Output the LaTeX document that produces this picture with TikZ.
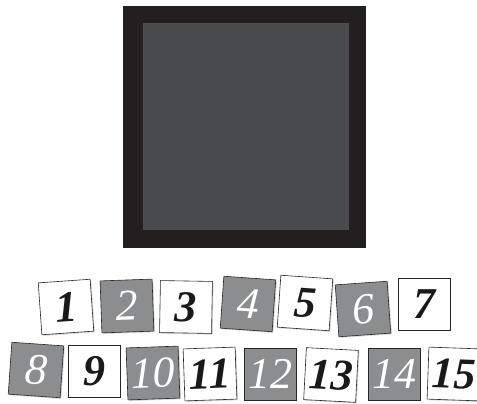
\documentclass[tikz,border=0pt]{standalone}
\usepackage{fontspec}
\usepackage{tikz}
\usetikzlibrary{shadows}
\newfontfamily\tilefont{Liberation Serif}
\definecolor{framecol}{RGB}{35,31,32}
\definecolor{screencol}{RGB}{74,75,77}
\definecolor{tilegray}{RGB}{140,141,143}
\tikzset{
  tile/.style={draw=black!85, line width=0.6pt, minimum size=52pt, inner sep=0pt,
    drop shadow={shadow xshift=1.2pt, shadow yshift=-1.2pt, opacity=0.3}},
  whitetile/.style={tile, fill=white, text=black!90,
    font=\tilefont\bfseries\itshape\fontsize{44}{44}\selectfont},
  graytile/.style={tile, fill=tilegray, text=white,
    font=\tilefont\itshape\fontsize{44}{44}\selectfont}
}

\begin{document}
\begin{tikzpicture}[x=1pt,y=-1pt]
  \useasboundingbox (0,0) rectangle (477,404);

  % the frame and the screen
  \node[fill=framecol, minimum width=243pt, minimum height=242pt, inner sep=0pt] (frame) at (244.5,127) {};
  \node[fill=screencol, draw=black!70, line width=0.4pt, minimum width=205pt, minimum height=206pt, inner sep=0pt] (screen) at (245.5,126) {};

  % top row
  \node[whitetile, rotate=4]  (t1) at (66,307) {1};
  \node[graytile, rotate=2]   (t2) at (127,306) {2};
  \node[whitetile, rotate=-1] (t3) at (186,307) {3};
  \node[graytile, rotate=-4]  (t4) at (248,304) {4};
  \node[whitetile, rotate=-4] (t5) at (305,303) {5};
  \node[graytile, rotate=4]   (t6) at (363,309) {6};
  \node[whitetile]            (t7) at (424,304) {7};

  % bottom row
  \node[graytile, rotate=-4]  (t8) at (36,370) {8};
  \node[whitetile]            (t9) at (94,371) {9};
  \node[graytile, rotate=2]   (t10) at (153,373) {10};
  \node[whitetile, rotate=2]  (t11) at (210,374) {11};
  \node[graytile]             (t12) at (270,374) {12};
  \node[whitetile, rotate=-3] (t13) at (331,375) {13};
  \node[graytile]             (t14) at (394,374) {14};
  \node[whitetile, rotate=-2] (t15) at (454,374) {15};
\end{tikzpicture}
\end{document}
